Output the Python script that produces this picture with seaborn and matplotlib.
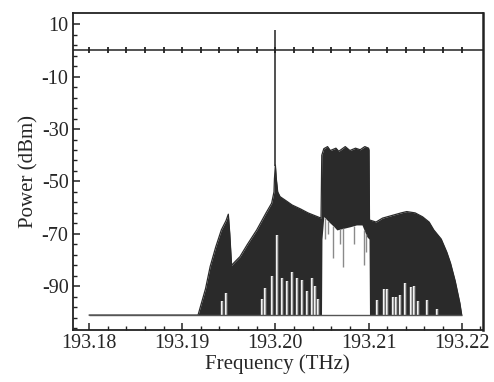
import matplotlib
matplotlib.use("Agg")
import matplotlib.pyplot as plt
import numpy as np
import seaborn as sns
import pandas as pd
from matplotlib.ticker import MultipleLocator, FixedLocator

# ===== Données =====
# enveloppe haute du spectre (THz, dBm)
freq_haut = [193.1800, 193.1917, 193.1925, 193.1930, 193.1936, 193.1942, 193.19470, 193.19495,
             193.1951, 193.1953, 193.1957, 193.1962, 193.1970, 193.1980, 193.1990, 193.1996,
             193.19985, 193.1999, 193.2000, 193.2001, 193.20025, 193.2005, 193.2012, 193.2018,
             193.2027, 193.2035, 193.2042, 193.20490,
             193.20498, 193.2052, 193.2056, 193.2059, 193.2065, 193.2068, 193.2075, 193.2080,
             193.2086, 193.2091, 193.2096, 193.2100, 193.21005,
             193.2101, 193.2108, 193.2115, 193.2125, 193.2135, 193.2141, 193.2150, 193.2158,
             193.2165, 193.2170, 193.2178, 193.2184, 193.2188, 193.2193, 193.2198, 193.2200]
puis_haut = [-101, -101, -91, -82.5, -75, -68.5, -65, -62.5,
             -69.7, -82, -80.5, -78.7, -74, -68.5, -62, -58.3,
             -54, -49, -43.7, -49, -54, -55.8, -57.5, -59,
             -60.5, -62, -63, -64,
             -40, -37.5, -36.7, -38.2, -37.3, -38.5, -36.7, -38.2,
             -37.3, -37.9, -36.7, -37.3, -38,
             -64.7, -65.5, -64, -63, -62, -61.5, -62, -63.5,
             -65.5, -68.5, -72, -77, -81.2, -88, -96.4, -101]

# enveloppe basse (bord inférieur de la zone noire) : plancher sauf sous le bloc
freq_bas = [193.1800, 193.20495, 193.20500, 193.2052, 193.2057, 193.2063, 193.2066,
            193.2073, 193.2080, 193.2087, 193.2093, 193.2098, 193.21005, 193.2101, 193.2200]
puis_bas = [-101, -101, -72, -63.4, -65.3, -67.3, -68.5,
            -67.9, -67.3, -66.6, -66.6, -71, -72, -101, -101]

# pics blancs qui montent du plancher dans la zone noire : fréquence, sommet
freq_trous = [193.19424, 193.19470,
              193.19854, 193.19889, 193.19961, 193.20015, 193.20068, 193.20122, 193.20176,
              193.20229, 193.20283, 193.20337, 193.20390, 193.20426, 193.20461,
              193.21088, 193.21166, 193.21202, 193.21266, 193.21295, 193.21338, 193.21392,
              193.21453, 193.21488, 193.21534, 193.21631, 193.21732]
puis_trous = [-95.8, -92.4,
              -95, -90.6, -86, -70.4, -87, -88, -84.4,
              -87, -87.6, -92, -87, -90, -95,
              -95.2, -91.1, -91.1, -94.2, -94, -93.3, -88.6,
              -90.4, -89.9, -95.8, -95.2, -98.8]

# creux gris sous le bloc : fréquence, niveau bas atteint
freq_creux = [193.20530, 193.20565, 193.20620, 193.20690, 193.20730, 193.20840, 193.20950, 193.20970]
puis_creux = [-72, -70, -79.3, -74, -82.5, -74, -81.9, -77]

# raie de la porteuse
freq_porteuse = 193.2000
puis_porteuse = 7.8

xticks = [193.18, 193.19, 193.20, 193.21, 193.22]
xticklabels = ["193.18", "193.19", "193.20", "193.21", "193.22"]
yticks = [10, -10, -30, -50, -70, -90]

haut = pd.DataFrame({"f": freq_haut, "p": puis_haut})

# ===== Graphe =====
sns.set_style("ticks")
plt.rcParams['font.family'] = ['Liberation Serif', 'DejaVu Serif']
plt.rcParams['axes.unicode_minus'] = False

fig = plt.figure(figsize=(4.94, 3.82), dpi=100)
ax = fig.add_axes([0.1472, 0.1361, 0.8299, 0.8299])

noir = "#2a2a2a"
# les deux enveloppes sur la même grille pour remplir entre elles
grille = np.union1d(freq_haut, freq_bas)
h = np.interp(grille, freq_haut, puis_haut)
b = np.interp(grille, freq_bas, puis_bas)
ax.fill_between(grille, b, h, where=h > b, color=noir, linewidth=0, interpolate=True)
sns.lineplot(data=haut, x="f", y="p", color=noir, linewidth=0.9, ax=ax, estimator=None)

# pics blancs et creux gris
ax.vlines(freq_trous, -101, puis_trous, color="#f2f2f2", linewidth=1.7)
ax.vlines(freq_trous, -101, puis_trous, color="#9a9a9a", linewidth=0.5)
ax.vlines(freq_creux, puis_creux, np.interp(freq_creux, freq_bas, puis_bas),
          color="#8a8a8a", linewidth=1.0)
ax.hlines(-101, 193.18, 193.22, color="#555555", linewidth=1.0)
ax.vlines([freq_porteuse], -44, puis_porteuse, color="#333333", linewidth=1.2)

# ligne à 0 dBm avec ses graduations
ax.axhline(0, color="#444444", linewidth=1.3)
ax.plot(np.arange(193.18, 193.2201, 0.002), np.zeros(21), linestyle="none",
        marker="|", markersize=5, color="#222222", markeredgewidth=1.3)

ax.set_xlim(193.17825, 193.22225)
ax.set_ylim(-106.7, 14.3)
ax.set_xticks(xticks)
ax.set_xticklabels(xticklabels)
ax.set_yticks(yticks)
ax.xaxis.set_minor_locator(MultipleLocator(0.002))
ax.yaxis.set_minor_locator(FixedLocator(np.arange(-106, 14, 4)))
ax.tick_params(which="both", direction="in", top=False, right=False, labelsize=14.5,
               color="#222222", pad=3)
ax.tick_params(which="major", length=5, width=1.1)
ax.tick_params(which="minor", length=3, width=1.0)

for s in ax.spines.values():
    s.set_color("#222222")
    s.set_linewidth(1.3)
ax.spines["right"].set_linewidth(1.8)

ax.set_xlabel("Frequency (THz)", fontsize=15, labelpad=1)
ax.set_ylabel("Power (dBm)", fontsize=15, labelpad=2)

plt.savefig("out.png", dpi=100)
